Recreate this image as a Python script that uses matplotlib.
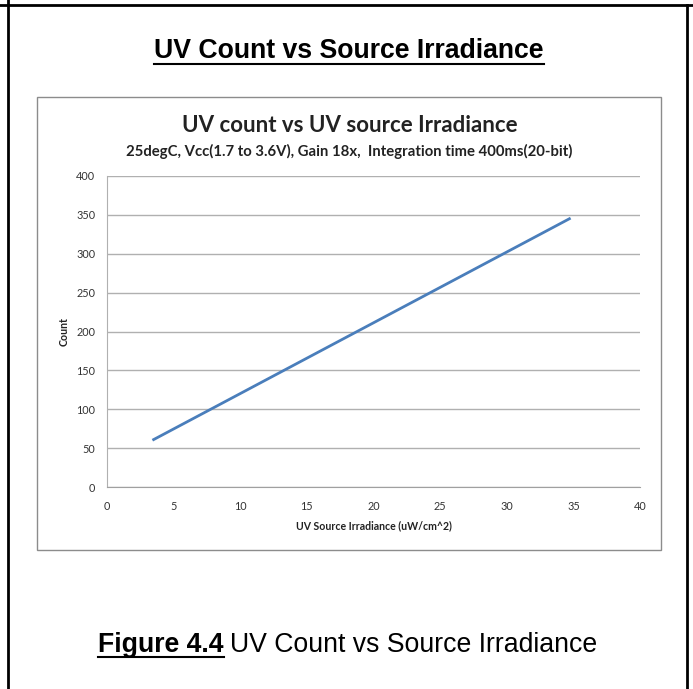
import matplotlib
matplotlib.use("Agg")
import matplotlib.pyplot as plt
from matplotlib.patches import Rectangle
from matplotlib.lines import Line2D

# Data
irradiance = [3.5, 34.7]
counts = [61, 345]
x_ticks = [0, 5, 10, 15, 20, 25, 30, 35, 40]
y_ticks = [0, 50, 100, 150, 200, 250, 300, 350, 400]

W, H = 693, 689
fig = plt.figure(figsize=(W / 100, H / 100), dpi=100)

def fx(px):
    return px / W

def fy(py):
    return 1 - py / H

NARROW = ["Liberation Sans", "DejaVu Sans"]
CAL = ["Lato", "DejaVu Sans"]

# page border lines
fig.add_artist(Line2D([fx(0), fx(W)], [fy(5), fy(5)], color="black", lw=2))
fig.add_artist(Line2D([fx(8), fx(8)], [fy(0), fy(H)], color="black", lw=2))
fig.add_artist(Line2D([fx(687), fx(687)], [fy(5), fy(H)], color="black", lw=2))

# chart box
fig.add_artist(Rectangle((fx(37), fy(550)), fx(661) - fx(37), fy(97) - fy(550),
                         transform=fig.transFigure, fill=False, edgecolor="#8c8c8c", lw=1))

ax = fig.add_axes([fx(107), fy(487), fx(640) - fx(107), fy(176) - fy(487)])
ax.plot(irradiance, counts, color="#4a7ebb", lw=2)
ax.set_xlim(0, 40)
ax.set_ylim(0, 400)
ax.set_xticks(x_ticks)
ax.set_yticks(y_ticks)
ax.set_xticklabels([str(v) for v in x_ticks], fontsize=7.8, family=CAL, color="#333333")
ax.set_yticklabels([str(v) for v in y_ticks], fontsize=7.8, family=CAL, color="#333333")
ax.tick_params(length=0)
ax.tick_params(axis="x", pad=10)
ax.tick_params(axis="y", pad=8.5)
ax.grid(axis="y", color="#b0b0b0", lw=1)
ax.set_axisbelow(True)
for s in ["top", "right"]:
    ax.spines[s].set_visible(False)
ax.spines["bottom"].set_color("#a0a0a0")
ax.spines["left"].set_color("#b0b0b0")
ax.set_xlabel("UV Source Irradiance (uW/cm^2)", fontsize=7.6, family=CAL, fontweight="bold",
              labelpad=6, color="#222222")
ax.set_ylabel("Count", fontsize=7.6, family=CAL, fontweight="bold", labelpad=5, color="#222222")

fig.text(fx(350), fy(125), "UV count vs UV source Irradiance", ha="center", va="center",
         fontsize=16, family=CAL, fontweight="bold", color="#222222")
fig.text(fx(349), fy(151), "25degC, Vcc(1.7 to 3.6V), Gain 18x,  Integration time 400ms(20-bit)",
         ha="center", va="center", fontsize=10.7, family=CAL, fontweight="bold", color="#222222")

# Page title, underlined
t1 = fig.text(fx(349), fy(51), "UV Count vs Source Irradiance", ha="center", va="center",
              fontsize=19.2, family=NARROW, fontweight="bold")
fig.canvas.draw()
r = fig.canvas.get_renderer()
bb = t1.get_window_extent(r)
fig.add_artist(Line2D([bb.x0 / W, bb.x1 / W], [fy(64), fy(64)], color="black", lw=1.5))

# Caption
c1 = fig.text(fx(98), fy(645), "Figure 4.4", ha="left", va="center", fontsize=19.2,
              family=NARROW, fontweight="bold")
fig.canvas.draw()
bb = c1.get_window_extent(r)
fig.add_artist(Line2D([bb.x0 / W, bb.x1 / W], [fy(657), fy(657)], color="black", lw=1.5))
fig.text(bb.x1 / W + 6 / W, fy(645), "UV Count vs Source Irradiance", ha="left", va="center",
         fontsize=19.2, family=NARROW)

fig.savefig("out.png", dpi=100)
